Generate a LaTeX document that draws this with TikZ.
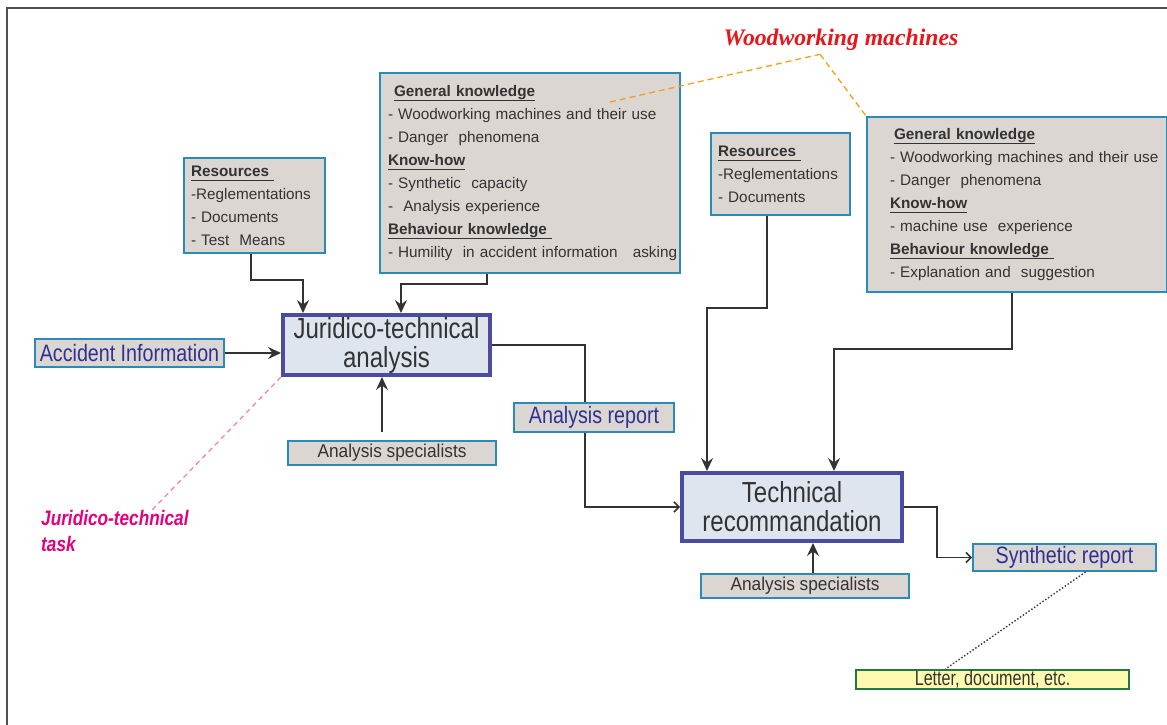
\documentclass[tikz,border=0pt]{standalone}
\usepackage{fontspec}
\usepackage{graphicx}
\setmainfont{Liberation Sans}
\newfontfamily\serifbold{Liberation Serif}
\usetikzlibrary{arrows.meta}

\definecolor{boxfill}{HTML}{DCD6D3}
\definecolor{boxline}{HTML}{2A8AB8}
\definecolor{mainfill}{HTML}{DFE5EF}
\definecolor{mainline}{HTML}{4B4B9F}
\definecolor{labelblue}{HTML}{2E3192}
\definecolor{textgray}{HTML}{333333}
\definecolor{framegray}{HTML}{505050}
\definecolor{wireorange}{HTML}{F2A01E}
\definecolor{taskpink}{HTML}{E4007C}
\definecolor{dashpink}{HTML}{EE86B6}
\definecolor{notefill}{HTML}{FFFAB0}
\definecolor{noteline}{HTML}{1F7A45}
\definecolor{titlered}{HTML}{E8151B}

\newsavebox\headbox
\newcommand{\headline}[1]{\leavevmode\sbox\headbox{\textbf{#1}}\rlap{\rule[-5pt]{\wd\headbox}{1.6pt}}\usebox\headbox}
\newcommand{\narrowtext}[2][0.83]{\scalebox{#1}[1]{#2}}

\tikzstyle{infobox}=[draw=boxline,fill=boxfill,line width=2pt,text=textgray,anchor=north west,align=left,inner xsep=8pt,inner ysep=0pt,font=\fontsize{15.3}{23}\selectfont]
\tikzstyle{task}=[draw=mainline,fill=mainfill,line width=4pt,text=textgray,align=center,inner sep=0pt,font=\fontsize{29}{29}\selectfont]
\tikzstyle{flow}=[draw=boxline,fill=boxfill,line width=2pt,text=labelblue,inner sep=0pt,font=\fontsize{23.7}{24}\selectfont]
\tikzstyle{actor}=[draw=boxline,fill=boxfill,line width=2pt,text=textgray,inner sep=0pt,font=\fontsize{18.6}{19}\selectfont]
\tikzstyle{note}=[draw=noteline,fill=notefill,line width=2pt,text=textgray,inner sep=0pt,font=\fontsize{21}{21}\selectfont]
\tikzstyle{feed}=[draw=textgray,line width=1.5pt,-{Stealth[length=13pt,width=12pt,inset=4.5pt]}]
\tikzstyle{pass}=[draw=textgray,line width=1.5pt,-{Straight Barb[length=5pt,width=10pt]}]
\tikzstyle{wire}=[draw=textgray,line width=1.5pt]
\tikzstyle{tie}=[draw=wireorange,line width=1.3pt,dash pattern=on 6pt off 4pt]

\begin{document}
\begin{tikzpicture}[x=1pt,y=-1pt]
  \useasboundingbox (0,0) rectangle (1167,725);
  \draw[line width=2pt,draw=framegray] (7,725) -- (7,8) -- (1167,8);

  \node (title)[text=titlered,font=\serifbold\bfseries\itshape\fontsize{23.7}{24}\selectfont] at (841,40) {Woodworking machines};

  \node (res1)[infobox,inner xsep=7pt,text width=127pt,minimum height=95pt] at (183,157) {\headline{Resources\ }\\
    -Reglementations\\
    - Documents\\
    - Test\ \ Means};
  \node (gk1)[infobox,text width=284pt,minimum height=200pt] at (379,72) {\hspace*{6pt}\headline{General knowledge}\\
    \mbox{- Woodworking machines and their use}\\
    - Danger\ \ phenomena\\
    \headline{Know-how}\\
    - Synthetic\ \ capacity\\
    -\ \ Analysis experience\\
    \headline{Behaviour knowledge\ }\\
    \mbox{- Humility\ \ in accident information\ \ \ asking}};
  \node (res2)[infobox,inner xsep=7pt,text width=125pt,minimum height=82pt] at (710,132) {\headline{Resources\ }\\
    -Reglementations\\
    - Documents};
  \node (gk2)[infobox,text width=284pt,minimum height=175pt] at (866,116) {\leftskip=15pt\hspace*{4pt}\headline{General knowledge}\\
    \mbox{- Woodworking machines and their use}\\
    - Danger\ \ phenomena\\
    \headline{Know-how}\\
    - machine use\ \ experience\\
    \headline{Behaviour knowledge\ }\\
    - Explanation and\ \ suggestion\par};

  \node (acc)[flow,minimum width=189pt,minimum height=28pt] at (129.5,353) {\narrowtext{Accident Information}};
  \node (jt)[task,minimum width=207pt,minimum height=60pt] at (386.5,345) {\narrowtext{Juridico-technical}\\\narrowtext{analysis}};
  \node (spec1)[actor,minimum width=208pt,minimum height=24pt] at (392,453) {\narrowtext[0.93]{Analysis specialists}};
  \node (rep)[flow,minimum width=160pt,minimum height=29pt] at (594,417.5) {\narrowtext{Analysis report}};
  \node (tr)[task,minimum width=220pt,minimum height=68pt] at (792,507) {\narrowtext{Technical}\\\narrowtext{recommandation}};
  \node (spec2)[actor,minimum width=208pt,minimum height=24pt] at (805,586) {\narrowtext[0.93]{Analysis specialists}};
  \node (syn)[flow,minimum width=183pt,minimum height=27pt] at (1064.5,557.5) {\narrowtext{Synthetic report}};
  \node (letter)[note,minimum width=273pt,minimum height=19pt] at (992.5,679.5) {\narrowtext[0.77]{Letter, document, etc.}};

  \node (task)[anchor=west,align=left,inner sep=0pt,text=taskpink,font=\bfseries\itshape\fontsize{21}{26}\selectfont] at (41,531) {\narrowtext[0.82]{Juridico-technical}\\\narrowtext[0.82]{task}};

    \draw[tie] ([shift={(231,30)}]gk1.north west) -- ([xshift=-21pt]title.south);
    \draw[tie] ([xshift=-21pt]title.south) -- (gk2.north west);
    \draw[draw=dashpink,line width=1.3pt,dash pattern=on 5pt off 4pt] (jt.south west) -- ([xshift=37pt]task.north);
    \draw[draw=textgray,line width=1.4pt,dotted] ([xshift=21pt]syn.south) -- ([xshift=-47pt]letter.north);

    \draw[feed] ([xshift=-3.5pt]res1.south) -- ++(0,26) -| ([xshift=22pt]jt.north west);
    \draw[feed] ([xshift=108pt]gk1.south west) -- ++(0,10) -| ([xshift=120pt]jt.north west);
    \draw[feed] (acc.east) -- (acc.east -| jt.west);
    \draw[feed, shorten <=8pt] ([xshift=-10pt]spec1.north) -- ([xshift=-10pt]spec1.north |- jt.south);
    \draw[wire] (jt.east) -| ([xshift=-9pt]rep.north);
    \draw[pass] ([xshift=-9pt]rep.south) |- (tr.west);
    \draw[feed] ([xshift=57pt]res2.south west) -- ++(0,92) -| ([xshift=27pt]tr.north west);
    \draw[feed] ([xshift=146pt]gk2.south west) -- ++(0,56) -| ([xshift=154pt]tr.north west);
    \draw[feed] ([xshift=8pt]spec2.north) -- ([xshift=8pt]spec2.north |- tr.south);
    \draw[pass] (tr.east) -- ++(33,0) |- (syn.west);
\end{tikzpicture}
\end{document}
